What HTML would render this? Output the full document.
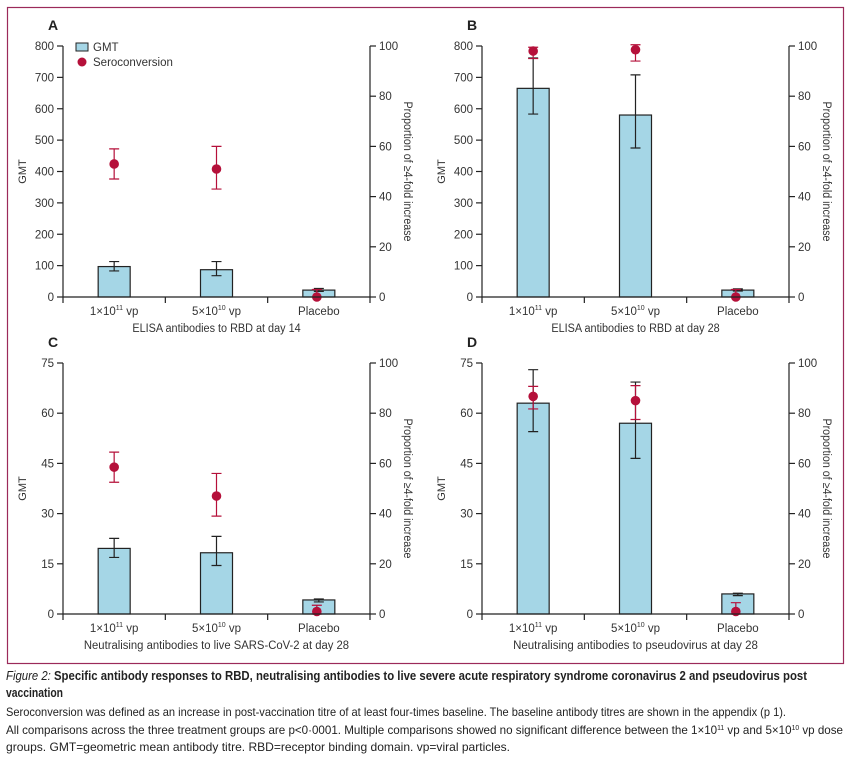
<!DOCTYPE html>
<html><head><meta charset="utf-8"><style>
body{margin:0;background:#fff;width:852px;height:759px;overflow:hidden;font-family:"Liberation Sans",sans-serif;}
svg{position:absolute;left:0;top:0}
</style></head><body>
<svg id="chart" width="852" height="759" xmlns="http://www.w3.org/2000/svg" font-family="Liberation Sans, sans-serif">
<rect x="7.5" y="7.5" width="836" height="656" fill="none" stroke="#9b2a5a" stroke-width="1.2"/>
<g font-weight="bold" font-size="12.5" fill="#222">
<text x="6" y="680" textLength="801" lengthAdjust="spacingAndGlyphs"><tspan font-style="italic" font-weight="normal">Figure 2:</tspan> Specific antibody responses to RBD, neutralising antibodies to live severe acute respiratory syndrome coronavirus 2 and pseudovirus post</text>
<text x="6" y="697" textLength="57" lengthAdjust="spacingAndGlyphs">vaccination</text>
</g>
<g font-size="12" fill="#222">
<text x="6" y="716" textLength="780" lengthAdjust="spacingAndGlyphs">Seroconversion was defined as an increase in post-vaccination titre of at least four-times baseline. The baseline antibody titres are shown in the appendix (p 1).</text>
<text x="6" y="734" textLength="837" lengthAdjust="spacingAndGlyphs">All comparisons across the three treatment groups are p&lt;0·0001. Multiple comparisons showed no significant difference between the 1×10<tspan dy="-4" font-size="7">11</tspan><tspan dy="4"> vp and 5×10</tspan><tspan dy="-4" font-size="7">10</tspan><tspan dy="4"> vp dose</tspan></text>
<text x="6" y="751" textLength="504" lengthAdjust="spacingAndGlyphs">groups. GMT=geometric mean antibody titre. RBD=receptor binding domain. vp=viral particles.</text>
</g>
</svg>
<script>
const panelLabels=["A","B","C","D"];
const panelTitles=["ELISA antibodies to RBD at day 14","ELISA antibodies to RBD at day 28","Neutralising antibodies to live SARS-CoV-2 at day 28","Neutralising antibodies to pseudovirus at day 28"];
const yMaxes=[800,800,75,75];
const yTicksElisa=[0,100,200,300,400,500,600,700,800];
const yTicksNeut=[0,15,30,45,60,75];
const y2Ticks=[0,20,40,60,80,100];
const gmtA=[97,87,22], gmtLoA=[83,68,18], gmtHiA=[113,113,27];
const seroA=[53,51,0], seroLoA=[47,43,0], seroHiA=[59,60,3];
const gmtB=[665,580,22], gmtLoB=[583,475,19], gmtHiB=[762,708,26];
const seroB=[98,98.5,0], seroLoB=[95,94,0], seroHiB=[99.5,100.5,3];
const gmtC=[19.6,18.3,4.2], gmtLoC=[16.9,14.5,3.6], gmtHiC=[22.6,23.2,4.5];
const seroC=[58.5,47,1], seroLoC=[52.5,39,0], seroHiC=[64.5,56,3.5];
const gmtD=[63,57,6], gmtLoD=[54.5,46.5,5.5], gmtHiD=[73,69.3,6.2];
const seroD=[86.7,85,1], seroLoD=[81.7,77.5,0], seroHiD=[90.7,91,4.5];

const NS="http://www.w3.org/2000/svg";
const svg=document.getElementById('chart');
function mk(tag,attrs,parent){const e=document.createElementNS(NS,tag);for(const k in attrs)e.setAttribute(k,attrs[k]);(parent||svg).appendChild(e);return e;}
function txt(s,attrs,parent){const e=mk('text',attrs,parent);e.textContent=s;return e;}
const RED="#b5103a";
const panels=[
 {x0:63,x1:370,y0:46,y1:297,ticks:yTicksElisa,g:[gmtA,gmtLoA,gmtHiA],s:[seroA,seroLoA,seroHiA],legend:true},
 {x0:482,x1:789,y0:46,y1:297,ticks:yTicksElisa,g:[gmtB,gmtLoB,gmtHiB],s:[seroB,seroLoB,seroHiB]},
 {x0:63,x1:370,y0:363,y1:614,ticks:yTicksNeut,g:[gmtC,gmtLoC,gmtHiC],s:[seroC,seroLoC,seroHiC]},
 {x0:482,x1:789,y0:363,y1:614,ticks:yTicksNeut,g:[gmtD,gmtLoD,gmtHiD],s:[seroD,seroLoD,seroHiD]}
];
panels.forEach((p,i)=>{
 const g=mk('g',{});
 
 
 const yS=v=>p.y1-(v/yMaxes[i])*(p.y1-p.y0);
 const y2S=v=>p.y1-(v/100)*(p.y1-p.y0);
 const cw=(p.x1-p.x0)/3;
 const xC=k=>p.x0+cw*(k+0.5);
 const lab=txt(panelLabels[i],{x:p.x0-15,y:p.y0-16,'font-size':14,'font-weight':'bold',fill:'#222'},g);
 
 
 for(let k=0;k<3;k++){
  const b=mk('rect',{x:xC(k)-16,y:yS(p.g[0][k]),width:32,height:p.y1-yS(p.g[0][k]),fill:'#a5d6e6',stroke:'#222','stroke-width':1.2},g);
  
  
  const e=mk('path',{d:`M${xC(k)} ${yS(p.g[1][k])}V${yS(p.g[2][k])}M${xC(k)-5} ${yS(p.g[1][k])}h10M${xC(k)-5} ${yS(p.g[2][k])}h10`,stroke:'#222','stroke-width':1.2,fill:'none'},g);
  
  
 }
 for(let k=0;k<3;k++){
  const cx=xC(k)+(k===2?-2:0);
  const e=mk('path',{d:`M${cx} ${y2S(p.s[1][k])}V${y2S(p.s[2][k])}M${cx-5} ${y2S(p.s[1][k])}h10M${cx-5} ${y2S(p.s[2][k])}h10`,stroke:RED,'stroke-width':1.2,fill:'none'},g);
  
  
  const c=mk('circle',{cx:cx,cy:y2S(p.s[0][k]),r:4.8,fill:RED},g);
  
  
 }
 mk('path',{d:`M${p.x0} ${p.y0}V${p.y1}H${p.x1}V${p.y0}M${p.x0} ${p.y1}v6M${p.x0+cw} ${p.y1}v6M${p.x0+2*cw} ${p.y1}v6M${p.x1} ${p.y1}v6`,stroke:'#222','stroke-width':1.2,fill:'none'},g);
 p.ticks.forEach(t=>{
  mk('line',{x1:p.x0-6,x2:p.x0,y1:yS(t),y2:yS(t),stroke:'#222','stroke-width':1.2},g);
  const tl=txt(String(t),{x:p.x0-9,y:yS(t)+4,'font-size':11.5,'text-anchor':'end',fill:'#333'},g);
  
  
 });
 y2Ticks.forEach(t=>{
  mk('line',{x1:p.x1,x2:p.x1+6,y1:y2S(t),y2:y2S(t),stroke:'#222','stroke-width':1.2},g);
  const tl=txt(String(t),{x:p.x1+9,y:y2S(t)+4,'font-size':11.5,fill:'#333'},g);
  
  
 });
 const cats=[["1×10","11"],["5×10","10"],["Placebo",""]];
 cats.forEach((c,k)=>{
  const t=mk('text',{x:xC(k),y:p.y1+18,'font-size':11.5,'text-anchor':'middle',fill:'#333'},g);
  
  
  t.appendChild(document.createTextNode(c[0]));
  if(c[1]){const s=document.createElementNS(NS,'tspan');s.setAttribute('dy','-5');s.setAttribute('font-size','7');s.textContent=c[1];t.appendChild(s);
   const s2=document.createElementNS(NS,'tspan');s2.setAttribute('dy','5');s2.textContent=' vp';t.appendChild(s2);}
 });
 const xt=txt(panelTitles[i],{x:(p.x0+p.x1)/2,y:p.y1+35,'font-size':11.5,'text-anchor':'middle',fill:'#333',textLength:panelTitles[i].length*5.1,lengthAdjust:'spacingAndGlyphs'},g);
 
 
 const yc=(p.y0+p.y1)/2;
 const yt=txt('GMT',{x:0,y:0,'font-size':11,'text-anchor':'middle',fill:'#333',transform:`translate(${p.x0-37},${yc}) rotate(-90)`},g);
 
 
 const y2t=txt('Proportion of ≥4-fold increase',{x:0,y:0,'font-size':11.5,'text-anchor':'middle',fill:'#333',textLength:140,lengthAdjust:'spacingAndGlyphs',transform:`translate(${p.x1+34},${yc}) rotate(90)`},g);
 
 
 if(p.legend){
  const lg=mk('g',{},g);
  
  
  mk('rect',{x:76,y:43,width:12,height:8,fill:'#a5d6e6',stroke:'#222','stroke-width':1},lg);
  txt('GMT',{x:93,y:51,'font-size':11.5,fill:'#333'},lg);
  mk('circle',{cx:82,cy:62,r:4.5,fill:RED},lg);
  txt('Seroconversion',{x:93,y:66,'font-size':11.5,fill:'#333'},lg);
 }
});
</script>
</body></html>
